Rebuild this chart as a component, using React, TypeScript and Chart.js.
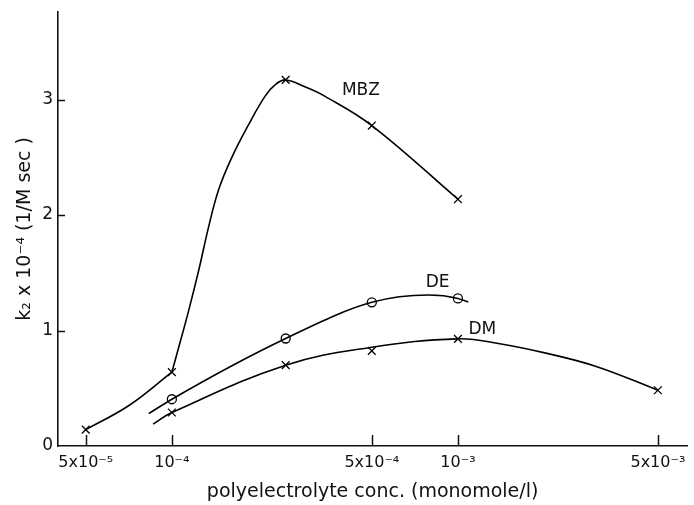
import React, { useEffect, useRef } from "react";
import { Chart, registerables } from "chart.js";

Chart.register(...registerables);

// ---- data ----
const xTickValues = [5e-5, 1e-4, 5e-4, 1e-3, 5e-3];
const xTickLabels = ["5x10⁻⁵", "10⁻⁴", "5x10⁻⁴", "10⁻³", "5x10⁻³"];
const yTickValues = [0, 1, 2, 3];
const yTickLabels = ["0", "1", "2", "3"];

const seriesNames = ["MBZ", "DE", "DM"];

// measured points (markers)
const mbzMarkX = [5e-5, 1e-4, 2.5e-4, 5e-4, 1e-3];
const mbzMarkY = [0.142, 0.64, 3.17, 2.775, 2.137];
const deMarkX = [1e-4, 2.5e-4, 5e-4, 1e-3];
const deMarkY = [0.405, 0.931, 1.244, 1.278];
const dmMarkX = [1e-4, 2.5e-4, 5e-4, 1e-3, 5e-3];
const dmMarkY = [0.29, 0.7, 0.824, 0.928, 0.483];

// hand-drawn curves
// MBZ is drawn in two strokes meeting at 1e-4 (visible corner there)
const mbzLowX = [5e-5, 7.1e-5, 1e-4];
const mbzLowY = [0.142, 0.353, 0.64];
const mbzHighX = [1e-4, 1.058e-4, 1.146e-4, 1.242e-4, 1.345e-4, 1.457e-4, 1.621e-4, 1.853e-4, 2.118e-4, 2.294e-4, 2.5e-4, 2.92e-4, 3.42e-4, 5e-4, 1e-3];
const mbzHighY = [0.64, 0.859, 1.177, 1.524, 1.9, 2.22, 2.5, 2.781, 3.03, 3.128, 3.17, 3.11, 3.03, 2.775, 2.137];
const deCurveX = [8.3e-5, 1e-4, 2.5e-4, 5e-4, 7.9e-4, 1e-3, 1.087e-3];
const deCurveY = [0.28, 0.405, 0.931, 1.244, 1.307, 1.278, 1.246];
const dmCurveX = [8.6e-5, 1e-4, 2.5e-4, 5e-4, 1e-3, 1.384e-3, 2.066e-3, 3.08e-3, 5e-3];
const dmCurveY = [0.19, 0.29, 0.7, 0.855, 0.928, 0.888, 0.8, 0.685, 0.483];

// series label anchor (data coordinates)
const labelX = [4.58e-4, 8.49e-4, 1.217e-3];
const labelY = [3.076, 1.411, 1.012];

const xMin = 4e-5;
const xMax = 6.33e-3;
const yMin = 0;
const yMax = 3.76;

const FONT = "'DejaVu Sans', sans-serif";
const INK = "#111";

const zip = (xs: number[], ys: number[]) => xs.map((x, i) => ({ x, y: ys[i] }));

const innerTicks = {
  id: "innerTicks",
  afterDraw(chart: any) {
    const ctx = chart.ctx;
    const xs = chart.scales.x;
    const ys = chart.scales.y;
    const area = chart.chartArea;
    ctx.save();
    ctx.strokeStyle = INK;
    ctx.lineWidth = 1.5;
    ctx.beginPath();
    xs.ticks.forEach((t: any) => {
      const px = Math.round(xs.getPixelForValue(t.value)) + 0.5;
      ctx.moveTo(px, area.bottom);
      ctx.lineTo(px, area.bottom - 11);
    });
    ys.ticks.forEach((t: any) => {
      if (t.value === 0) return;
      const py = Math.round(ys.getPixelForValue(t.value)) + 0.5;
      ctx.moveTo(area.left, py);
      ctx.lineTo(area.left + 7, py);
    });
    ctx.stroke();
    // series labels
    ctx.fillStyle = INK;
    ctx.font = `17px ${FONT}`;
    ctx.textAlign = "center";
    ctx.textBaseline = "middle";
    seriesNames.forEach((n, i) => {
      ctx.fillText(n, xs.getPixelForValue(labelX[i]), ys.getPixelForValue(labelY[i]));
    });
    ctx.restore();
  },
};

export default function App() {
  const ref = useRef<HTMLCanvasElement | null>(null);
  useEffect(() => {
    document.body.style.margin = "0";
    const canvas = ref.current;
    if (!canvas) return;
    const curve = (xs: number[], ys: number[], mono: boolean) => ({
      type: "line" as const,
      data: zip(xs, ys),
      borderColor: "#000",
      borderWidth: 1.6,
      pointRadius: 0,
      fill: false,
      tension: 0.4,
      cubicInterpolationMode: mono ? ("monotone" as const) : ("default" as const),
    });
    const marks = (xs: number[], ys: number[], style: string, r: number) => ({
      type: "scatter" as const,
      data: zip(xs, ys),
      showLine: false,
      pointStyle: style,
      pointRadius: r,
      pointBorderWidth: 1.3,
      pointBorderColor: "#000",
      pointBackgroundColor: "#fff",
    });
    const chart = new Chart(canvas, {
      type: "line",
      data: {
        datasets: [
          curve(mbzLowX, mbzLowY, false),
          curve(mbzHighX, mbzHighY, false),
          curve(deCurveX, deCurveY, true),
          curve(dmCurveX, dmCurveY, false),
          marks(mbzMarkX, mbzMarkY, "crossRot", 5.5),
          marks(deMarkX, deMarkY, "circle", 4.5),
          marks(dmMarkX, dmMarkY, "crossRot", 5.5),
        ] as any,
      },
      plugins: [innerTicks],
      options: {
        animation: false,
        responsive: false,
        devicePixelRatio: 1,
        layout: { padding: { left: 2, right: 2, top: 0, bottom: 1.8 } },
        plugins: { legend: { display: false }, tooltip: { enabled: false } },
        scales: {
          x: {
            type: "logarithmic",
            min: xMin,
            max: xMax,
            grid: { display: false, drawTicks: false },
            border: { display: true, color: INK, width: 1.6 },
            afterBuildTicks: (s: any) => {
              s.ticks = xTickValues.map((v) => ({ value: v }));
            },
            ticks: {
              autoSkip: false,
              maxRotation: 0,
              padding: 3,
              color: INK,
              font: { family: FONT, size: 16, lineHeight: 1.775 },
              callback: (_v: any, i: number) => xTickLabels[i],
            },
            title: {
              display: true,
              text: "polyelectrolyte conc. (monomole/l)",
              color: INK,
              font: { family: FONT, size: 19 },
              padding: { top: 0, bottom: 0 },
            },
          },
          y: {
            type: "linear",
            min: yMin,
            max: yMax,
            grid: { display: false, drawTicks: false },
            border: { display: true, color: INK, width: 1.6 },
            afterBuildTicks: (s: any) => {
              s.ticks = yTickValues.map((v) => ({ value: v }));
            },
            ticks: {
              padding: 5,
              color: INK,
              font: { family: FONT, size: 17, lineHeight: 0.8 },
              callback: (_v: any, i: number) => yTickLabels[i],
            },
            title: {
              display: true,
              text: "k₂ x 10⁻⁴ (1/M sec )",
              color: INK,
              font: { family: FONT, size: 19 },
              padding: { top: 11.6, bottom: 0.8 },
            },
          },
        },
      } as any,
    });
    return () => chart.destroy();
  }, []);
  return (
    <div style={{ width: 694, height: 505, background: "#fff" }}>
      <canvas ref={ref} width={694} height={505} style={{ display: "block" }} />
    </div>
  );
}
